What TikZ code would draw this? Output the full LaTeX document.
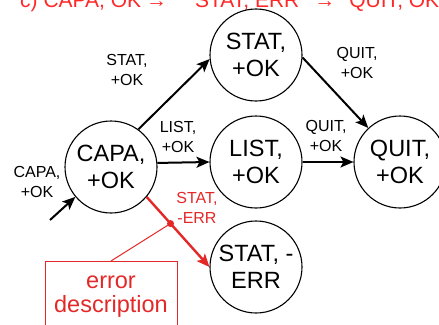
\documentclass[tikz,border=0pt]{standalone}
\usepackage{fontspec}
\setmainfont{Liberation Sans}
\definecolor{ErrRed} {RGB}{228,40,40}
\definecolor{HeadRed}{RGB}{255,40,40}
\usetikzlibrary{arrows.meta}

\begin{document}
\begin{tikzpicture}[x=1pt,y=-1pt,
    state/.style={circle,draw,line width=1.1pt,minimum size=92pt,inner sep=0pt,
                  align=center,font=\fontsize{23.5}{27}\selectfont},
    lbl/.style={align=center,inner sep=0pt,font=\fontsize{16}{19.5}\selectfont},
    trans/.style={-{Stealth[length=13pt,width=11pt,inset=3pt]},line width=2pt}]
  \useasboundingbox (0,0) rectangle (439,324);
  % heading, cut off by the top edge
  \node[anchor=base west,inner sep=0pt,text=HeadRed,
        font=\fontsize{21}{25}\selectfont] (head) at (20,7)
    {c) CAPA, OK\hspace{5pt}\makebox[14pt][l]{→}\hspace{35pt}STAT, ERR%
     \hspace{15pt}\makebox[15pt][l]{→}\hspace{20pt}QUIT, OK};
  \node[state] (capa) at (111,167) {CAPA,\\+OK};
  \node[state] (stat) at (256,55)  {STAT,\\+OK};
  \node[state] (list) at (256,162) {LIST,\\+OK};
  \node[state] (quit) at (400,162) {QUIT,\\+OK};
  \node[state] (err)  at (256,267) {STAT, -\\ERR};
  \foreach \n/\x/\y/\t in {
      lcapa/37/182/{CAPA,\\+OK},
      lstat/127/70/{STAT,\\+OK},
      llist/178/137/{LIST,\\+OK},
      lquitA/357/63/{QUIT,\\+OK},
      lquitB/326/136/{QUIT,\\+OK}}{
    \node[lbl] (\n) at (\x,\y) {\t};
  }
  \node[lbl,text=ErrRed] (lerr) at (197,208) {STAT,\\-ERR};
  \coordinate (entry) at (50,220);
  \draw[trans] (entry) -- (capa.220);
  \draw[trans] (capa.54) -- (stat.185);
  \draw[trans] (capa.5) -- (list.west);
  \draw[trans] (stat.-3) -- (quit.133);
  \draw[trans] (list) -- (quit);
  \draw[trans,ErrRed,line width=2.4pt] (capa.-40) -- coordinate[pos=0.38] (dot) (err.west);
  % error box, cut off by the bottom edge
  \node[draw=ErrRed,line width=1pt,minimum width=132pt,minimum height=71pt,
        anchor=north,align=center,text=ErrRed,
        font=\fontsize{23.5}{24}\selectfont] (desc) at (111,261)
    {error\\description};
  \draw[ErrRed,line width=1pt] (dot) -- (desc.north);
  \fill[ErrRed] (dot) circle (3.5pt);
\end{tikzpicture}
\end{document}
